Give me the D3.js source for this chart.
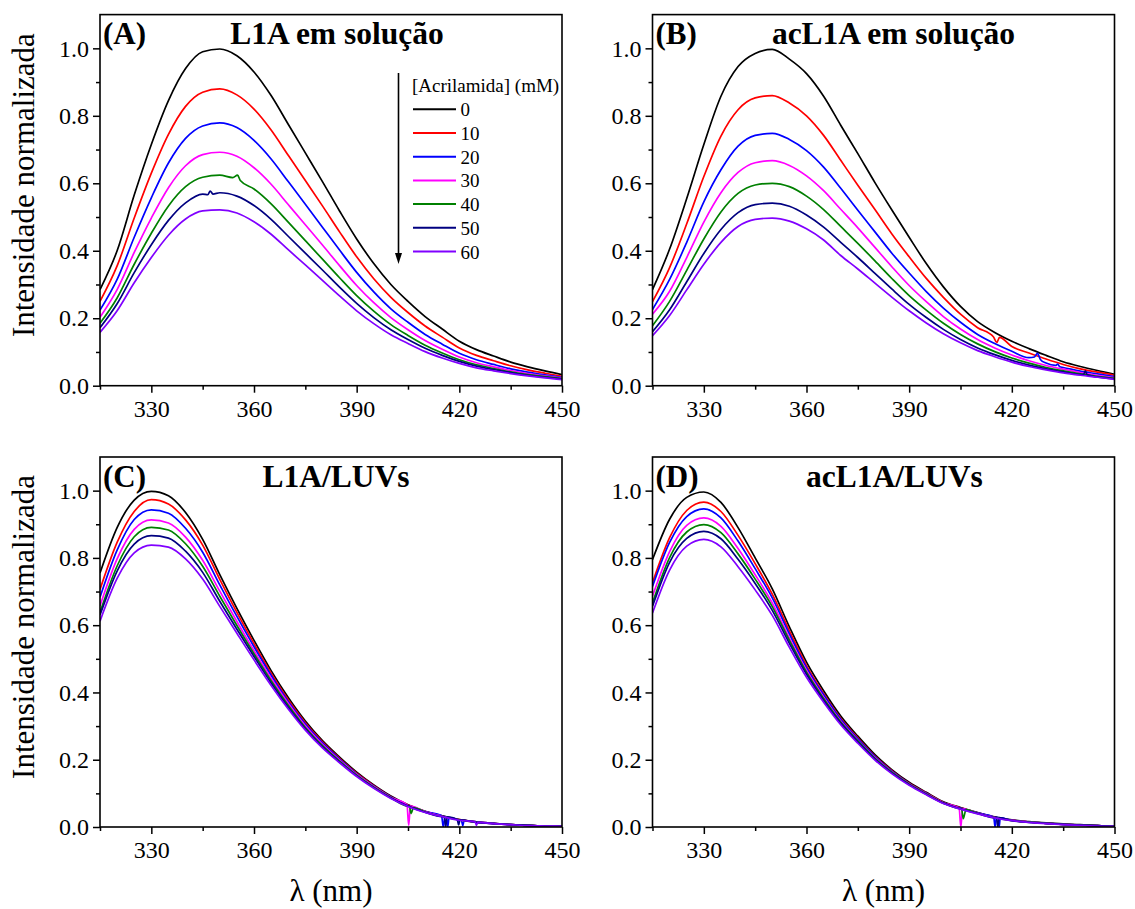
<!DOCTYPE html>
<html>
<head>
<meta charset="utf-8">
<script src="https://cdn.jsdelivr.net/npm/d3@7"></script>
<style>
  body { margin: 0; background: #fff; }
  svg { display: block; }
  svg text { font-family: 'Liberation Serif', 'DejaVu Serif', serif !important; fill: #000; }
</style>
</head>
<body>
<svg id="fig" width="1135" height="909"></svg>
<script>
// Emission wavelengths (nm)
const wavelengths = [315,320,325,330,335,340,345,350,355,360,365,370,375,380,385,390,395,400,405,410,415,420,425,430,435,440,445,450];

// Acrylamide concentrations (mM)
const concentrations = ["0","10","20","30","40","50","60"];

// Axis ticks
const xMajorTicks = [330,360,390,420,450];
const xMinorTicks = [315,345,375,405,435];
const yMajorTicks = [0,0.2,0.4,0.6,0.8,1.0];
const yMinorTicks = [0.1,0.3,0.5,0.7,0.9];

// (A) L1A em solução — normalized intensity per concentration
const A_0  = [.285,.400,.565,.715,.845,.940,.990,.998,.978,.930,.860,.775,.690,.605,.518,.435,.362,.300,.250,.205,.168,.132,.107,.088,.070,.056,.044,.033];
const A_10 = [.250,.355,.497,.630,.745,.828,.870,.880,.862,.820,.758,.683,.608,.533,.456,.382,.317,.262,.217,.177,.144,.112,.090,.074,.059,.047,.037,.028];
const A_20 = [.224,.315,.440,.557,.660,.733,.770,.779,.765,.727,.672,.605,.538,.470,.402,.336,.278,.228,.188,.152,.123,.096,.077,.063,.050,.040,.032,.025];
const A_30 = [.203,.285,.395,.497,.587,.652,.685,.692,.680,.646,.597,.537,.477,.417,.356,.297,.246,.202,.166,.134,.108,.085,.068,.056,.045,.036,.029,.023];
const A_40 = [.185,.260,.360,.452,.533,.590,.618,.624,.614,.583,.539,.485,.430,.375,.320,.267,.221,.181,.149,.120,.097,.077,.062,.051,.041,.033,.027,.021];
const A_50 = [.172,.243,.335,.418,.490,.542,.568,.572,.562,.534,.493,.443,.393,.343,.292,.244,.202,.166,.137,.111,.090,.072,.058,.048,.039,.031,.025,.020];
const A_60 = [.158,.222,.305,.380,.446,.494,.518,.521,.512,.486,.449,.403,.358,.312,.266,.222,.184,.151,.125,.101,.082,.066,.053,.044,.036,.029,.023,.018];

// (B) acL1A em solução
const B_0  = [.285,.405,.555,.715,.858,.946,.985,.997,.968,.925,.858,.772,.688,.602,.520,.440,.362,.293,.235,.190,.158,.132,.110,.090,.071,.057,.045,.034];
const B_10 = [.249,.350,.480,.620,.740,.818,.853,.860,.838,.800,.742,.668,.594,.522,.449,.382,.318,.262,.212,.172,.142,.116,.097,.079,.063,.050,.040,.031];
const B_20 = [.226,.315,.425,.545,.640,.710,.742,.748,.730,.697,.648,.585,.520,.456,.392,.334,.279,.230,.188,.152,.125,.102,.083,.067,.054,.043,.035,.027];
const B_30 = [.212,.280,.380,.485,.572,.632,.661,.667,.653,.622,.578,.523,.468,.410,.352,.297,.249,.205,.168,.137,.112,.091,.074,.060,.049,.039,.031,.024];
const B_40 = [.178,.250,.342,.435,.515,.570,.595,.600,.590,.562,.522,.472,.422,.370,.317,.267,.224,.185,.152,.124,.101,.082,.067,.054,.044,.035,.028,.022];
const B_50 = [.160,.225,.308,.392,.463,.513,.537,.541,.532,.506,.470,.425,.380,.333,.286,.241,.202,.167,.137,.112,.092,.075,.061,.050,.041,.033,.026,.020];
const B_60 = [.148,.208,.284,.360,.425,.472,.493,.497,.488,.465,.432,.386,.346,.304,.262,.222,.186,.154,.127,.104,.086,.070,.057,.047,.038,.031,.025,.019];

// (C) L1A/LUVs
const C_0  = [.755,.890,.972,.998,.985,.935,.855,.750,.650,.555,.465,.385,.315,.257,.208,.163,.125,.092,.066,.047,.033,.022,.015,.011,.007,.005,.003,.002];
const C_10 = [.706,.846,.938,.973,.960,.913,.838,.736,.638,.545,.457,.378,.310,.253,.204,.160,.123,.090,.065,.046,.032,.022,.015,.011,.007,.005,.003,.002];
const C_20 = [.683,.823,.914,.943,.933,.888,.817,.720,.626,.536,.451,.373,.306,.250,.202,.158,.121,.089,.064,.046,.032,.021,.015,.011,.007,.005,.003,.002];
const C_30 = [.657,.797,.885,.913,.904,.862,.793,.701,.611,.524,.442,.368,.301,.246,.199,.156,.120,.088,.063,.045,.032,.021,.014,.010,.007,.005,.003,.002];
const C_40 = [.638,.776,.863,.891,.883,.842,.775,.686,.599,.515,.435,.362,.296,.242,.196,.154,.118,.087,.062,.044,.031,.021,.014,.010,.007,.005,.003,.002];
const C_50 = [.630,.761,.841,.866,.859,.820,.757,.671,.588,.507,.428,.356,.292,.238,.193,.152,.117,.086,.062,.044,.031,.021,.014,.010,.007,.005,.003,.002];
const C_60 = [.612,.739,.815,.838,.832,.797,.737,.656,.576,.497,.421,.351,.288,.235,.191,.150,.115,.085,.061,.043,.031,.020,.014,.010,.007,.004,.003,.002];

// (D) acL1A/LUVs
const D_0  = [.795,.915,.980,.996,.965,.890,.800,.708,.595,.490,.405,.330,.270,.215,.170,.133,.103,.075,.058,.043,.030,.021,.016,.012,.009,.007,.004,.002];
const D_10 = [.726,.860,.941,.966,.938,.867,.783,.692,.583,.480,.397,.323,.265,.211,.167,.130,.101,.073,.057,.042,.029,.020,.015,.011,.008,.006,.004,.002];
const D_20 = [.715,.846,.923,.946,.919,.850,.768,.681,.574,.474,.393,.320,.262,.209,.165,.129,.100,.072,.056,.042,.029,.020,.015,.011,.008,.006,.004,.002];
const D_30 = [.686,.819,.897,.919,.894,.828,.750,.666,.562,.466,.386,.315,.258,.206,.163,.128,.099,.072,.055,.041,.028,.020,.015,.011,.008,.006,.004,.002];
const D_40 = [.666,.801,.877,.899,.875,.812,.737,.655,.555,.460,.382,.312,.256,.204,.162,.127,.098,.071,.055,.040,.028,.019,.015,.011,.008,.006,.004,.002];
const D_50 = [.656,.787,.858,.879,.857,.796,.724,.644,.546,.454,.377,.309,.253,.202,.160,.126,.097,.071,.054,.040,.028,.019,.014,.011,.008,.006,.004,.002];
const D_60 = [.636,.764,.835,.855,.833,.774,.705,.629,.534,.445,.371,.304,.249,.199,.158,.124,.096,.070,.053,.039,.027,.019,.014,.010,.007,.005,.003,.002];

// Detector glitches: [wavelength, intensity] groups, one list per concentration
const A_glitches = [[], [], [], [],
  [[[353.8,.617],[355.2,.624],[356.0,.608]]],
  [[[346.5,.566],[347.2,.577],[348.0,.568]]],
  []];
const B_glitches = [[],
  [[[414.6,.145],[415.6,.128],[416.4,.143]]],
  [[[426.6,.085],[427.5,.096],[428.4,.077]], [[432.8,.060],[433.4,.064],[434.0,.056]]],
  [], [],
  [[[441.0,.034],[441.5,.044],[442.0,.032]]],
  []];
const C_glitches = [[], [],
  [[[414.8,.034],[415.3,.000],[415.8,.031]], [[416.2,.030],[416.6,.000],[417.0,.028]], [[420.6,.020],[421.0,.004],[421.4,.019]]],
  [[[404.7,.066],[405.2,.005],[405.7,.062]]],
  [[[405.4,.063],[405.9,.040],[406.6,.058]]],
  [[[415.6,.032],[416.0,.000],[416.4,.030]], [[419.4,.022],[419.8,.006],[420.2,.021]]],
  [[[424.6,.015],[425.0,.005],[425.4,.014]]]];
const D_glitches = [[], [],
  [[[414.7,.030],[415.1,.000],[415.5,.029]], [[416.0,.028],[416.3,.000],[416.6,.027]]],
  [[[404.6,.056],[405.1,.000],[405.6,.054]]],
  [[[405.3,.055],[405.8,.025],[406.6,.052]]],
  [[[415.5,.029],[415.9,.000],[416.3,.028]]],
  []];

const seriesColors = ["#000000","#ff0000","#0000ff","#ff00ff","#008000","#000080","#8000ff"];

const panels = [
  { tag: "(A)", title: "L1A em solução",  left: 100,   right: 562,    top: 14.6, bottom: 385.7, titleShift: 6,
    series: [A_0,A_10,A_20,A_30,A_40,A_50,A_60], glitches: A_glitches, yTitle: true,  xTitle: false, legend: true },
  { tag: "(B)", title: "acL1A em solução", left: 652.5, right: 1114.5, top: 14.6, bottom: 385.7, titleShift: 10,
    series: [B_0,B_10,B_20,B_30,B_40,B_50,B_60], glitches: B_glitches, yTitle: false, xTitle: false, legend: false },
  { tag: "(C)", title: "L1A/LUVs",         left: 100,   right: 562,    top: 457,  bottom: 827,   titleShift: 5,
    series: [C_0,C_10,C_20,C_30,C_40,C_50,C_60], glitches: C_glitches, yTitle: true,  xTitle: true,  legend: false },
  { tag: "(D)", title: "acL1A/LUVs",       left: 652.5, right: 1114.5, top: 457,  bottom: 827,   titleShift: 11,
    series: [D_0,D_10,D_20,D_30,D_40,D_50,D_60], glitches: D_glitches, yTitle: false, xTitle: true,  legend: false }
];

const svg = d3.select("#fig");
const defs = svg.append("defs");
const serif = "'Liberation Serif', 'DejaVu Serif', serif";
const tickFont = 24;

panels.forEach((p, pi) => {
  const x = d3.scaleLinear().domain([315, 450]).range([p.left, p.right]);
  const y = d3.scaleLinear().domain([0, 1.1]).range([p.bottom, p.top]);
  const g = svg.append("g").style("font-family", serif);

  defs.append("clipPath").attr("id", "clip" + pi)
    .append("rect").attr("x", p.left).attr("y", p.top)
    .attr("width", p.right - p.left).attr("height", p.bottom - p.top);

  const line = d3.line().x(d => x(d[0])).y(d => y(d[1])).curve(d3.curveMonotoneX);

  const curves = g.append("g").attr("clip-path", `url(#clip${pi})`);
  p.series.forEach((vals, i) => {
    let pts = wavelengths.map((w, j) => [w, vals[j]]);
    (p.glitches[i] || []).forEach(grp => {
      const lo = grp[0][0], hi = grp[grp.length - 1][0];
      pts = pts.filter(d => d[0] < lo || d[0] > hi).concat(grp);
    });
    pts.sort((a, b) => a[0] - b[0]);
    curves.append("path")
      .attr("d", line(pts))
      .attr("fill", "none")
      .attr("stroke", seriesColors[i])
      .attr("stroke-width", 1.7)
      .attr("stroke-linejoin", "round");
  });

  // bottom axis: major + minor ticks
  const xMaj = g.append("g").attr("transform", `translate(0,${p.bottom})`)
    .call(d3.axisBottom(x).tickValues(xMajorTicks).tickSize(7).tickSizeOuter(0).tickPadding(7).tickFormat(d3.format("d")));
  const xMin = g.append("g").attr("transform", `translate(0,${p.bottom})`)
    .call(d3.axisBottom(x).tickValues(xMinorTicks).tickSize(4).tickSizeOuter(0).tickFormat(""));
  // left axis
  const yMaj = g.append("g").attr("transform", `translate(${p.left},0)`)
    .call(d3.axisLeft(y).tickValues(yMajorTicks).tickSize(7).tickSizeOuter(0).tickPadding(4).tickFormat(d3.format(".1f")));
  const yMin = g.append("g").attr("transform", `translate(${p.left},0)`)
    .call(d3.axisLeft(y).tickValues(yMinorTicks).tickSize(4).tickSizeOuter(0).tickFormat(""));
  [xMaj, xMin, yMaj, yMin].forEach(a => {
    a.attr("font-family", null).attr("font-size", null);
    a.select(".domain").remove();
    a.selectAll("line").attr("stroke", "#000").attr("stroke-width", 1.5);
    a.selectAll("text").attr("font-size", tickFont).style("font-family", serif);
  });

  // frame
  g.append("rect")
    .attr("x", p.left).attr("y", p.top)
    .attr("width", p.right - p.left).attr("height", p.bottom - p.top)
    .attr("fill", "none").attr("stroke", "#000").attr("stroke-width", 1.6);

  // panel letter and title
  g.append("text").attr("x", p.left + 3).attr("y", p.top + 29.5)
    .attr("font-size", 31).attr("font-weight", "bold").text(p.tag);
  g.append("text").attr("x", (p.left + p.right) / 2 + p.titleShift).attr("y", p.top + 29.5)
    .attr("text-anchor", "middle").attr("font-size", 31.5).attr("font-weight", "bold").text(p.title);

  if (p.yTitle) {
    g.append("text")
      .attr("transform", `translate(33.5,${(p.top + p.bottom) / 2 - 15}) rotate(-90)`)
      .attr("text-anchor", "middle").attr("font-size", 31)
      .text("Intensidade normalizada");
  }
  if (p.xTitle) {
    g.append("text")
      .attr("x", (p.left + p.right) / 2).attr("y", 901)
      .attr("text-anchor", "middle").attr("font-size", 31)
      .text("λ (nm)");
  }

  if (p.legend) {
    const lg = g.append("g");
    const ax = 398.5, ay0 = 73, ay1 = 264;
    lg.append("line").attr("x1", ax).attr("x2", ax).attr("y1", ay0).attr("y2", ay1 - 9)
      .attr("stroke", "#000").attr("stroke-width", 1.6);
    lg.append("path").attr("d", `M${ax - 3.5},${ay1 - 11}L${ax + 3.5},${ay1 - 11}L${ax},${ay1}Z`).attr("fill", "#000");
    lg.append("text").attr("x", 412).attr("y", 92).attr("font-size", 19).text("[Acrilamida] (mM)");
    concentrations.forEach((c, i) => {
      const yy = 109.3 + i * 23.7;
      lg.append("line").attr("x1", 413).attr("x2", 456).attr("y1", yy).attr("y2", yy)
        .attr("stroke", seriesColors[i]).attr("stroke-width", 2);
      lg.append("text").attr("x", 460.5).attr("y", yy + 7).attr("font-size", 19).text(c);
    });
  }
});
</script>
</body>
</html>
